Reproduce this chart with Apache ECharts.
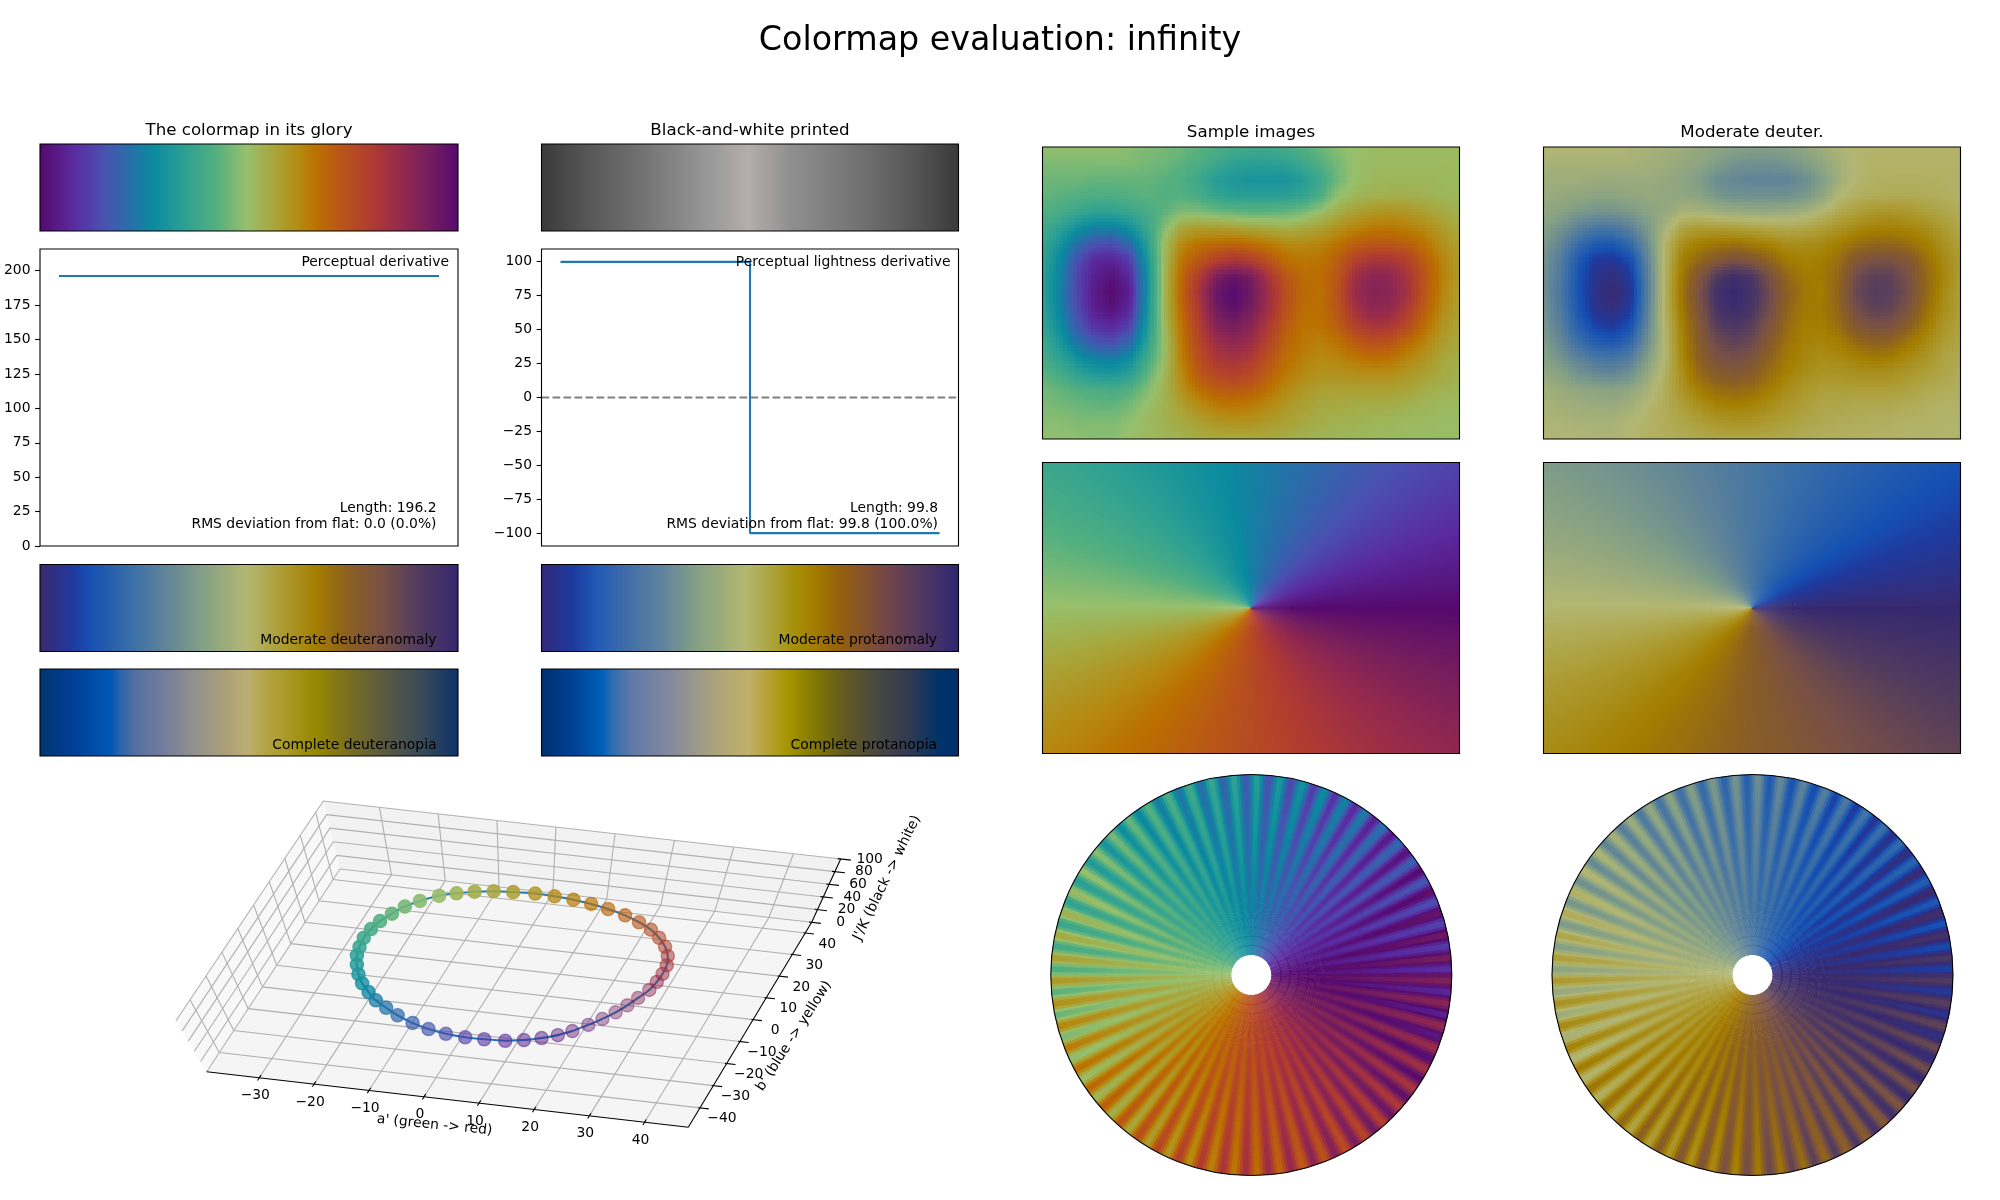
<!DOCTYPE html>
<html><head><meta charset="utf-8">
<style>html,body{margin:0;background:#fff}#c{width:2000px;height:1200px}</style>
<script src="https://cdn.jsdelivr.net/npm/echarts@6/dist/echarts.min.js"></script>
</head><body><div id="c"></div>
<script>
// ---------- colour ramps read from the strips (position, colour) ----------
const gloryStops=[[0,'#560a6e'],[.04,'#581a86'],[.08,'#5a2a9f'],[.15,'#4a50b0'],[.2,'#2f68ab'],[.27,'#0a8a9f'],[.34,'#2a9f95'],[.42,'#52af80'],[.495,'#97c06d'],[.56,'#a9a53a'],[.62,'#b58a12'],[.66,'#bb7200'],[.72,'#b95518'],[.79,'#b03c30'],[.86,'#962a4c'],[.93,'#751e5e'],[1,'#560a6e']];
const grayStops=[[0,'#3a3a3a'],[.1,'#545454'],[.25,'#747474'],[.4,'#989898'],[.495,'#b4aeac'],[.6,'#8f8f8f'],[.75,'#747474'],[.9,'#545454'],[1,'#3a3a3a']];
const deuterStops=[[0,'#3a2a70'],[.08,'#1f3a9e'],[.12,'#1550b2'],[.22,'#3a6fa8'],[.295,'#5e8299'],[.39,'#84a085'],[.495,'#b3b773'],[.58,'#ad9c33'],[.66,'#a47e00'],[.735,'#8c6020'],[.82,'#785045'],[.91,'#503a60'],[1,'#352870']];
const protanStops=[[0,'#33287a'],[.075,'#1c3a9e'],[.13,'#2058b5'],[.215,'#4470a8'],[.295,'#62859c'],[.37,'#83a085'],[.49,'#b3b870'],[.55,'#aca53e'],[.61,'#a58f06'],[.66,'#a37a00'],[.71,'#96620a'],[.77,'#85532a'],[.83,'#724548'],[.9,'#553a5d'],[1,'#2e2672']];
const deuteranopiaStops=[[0,'#00366e'],[.08,'#003f97'],[.17,'#0058b5'],[.19,'#2a62ac'],[.23,'#5570a0'],[.295,'#747c9d'],[.375,'#94938c'],[.455,'#b0a277'],[.495,'#bcae72'],[.535,'#b5a54a'],[.6,'#a89720'],[.66,'#968800'],[.735,'#7a7020'],[.82,'#5c5a40'],[.91,'#3a4a58'],[1,'#0f3268']];
const protanopiaStops=[[0,'#002f6e'],[.08,'#004398'],[.145,'#0060b8'],[.17,'#2e6cb0'],[.215,'#5f7aa8'],[.295,'#7f86a0'],[.375,'#9d9a88'],[.455,'#b7aa72'],[.495,'#c0b06a'],[.535,'#b8a43f'],[.59,'#a59600'],[.65,'#857a00'],[.725,'#625b1f'],[.8,'#4a4840'],[.875,'#353a50'],[.955,'#003368'],[1,'#002f6e']];

// ---------- derivative panels ----------
const derivX=[0,1];
const derivY=[196.2,196.2];
const lightX=[0,0.5,0.5,1];
const lightY=[99.8,99.8,-99.8,-99.8];
const derivTicks=[0,25,50,75,100,125,150,175,200];
const lightTicks=[-100,-75,-50,-25,0,25,50,75,100];

const aValues=[19.4,17.5,15.2,12.6,9.7,6.2,3.0,-0.4,-3.6,-6.7,-9.8,-12.3,-14.6,-16.5,-18.3,-19.7,-20.8,-21.6,-21.9,-22.0,-21.6,-20.8,-19.5,-18.0,-16.0,-13.3,-10.9,-8.3,-5.4,-2.3,1.3,4.6,7.9,11.1,14.3,17.6,20.5,23.1,25.2,27.0,28.3,29.0,29.1,28.9,28.4,27.3,26.2,24.9,23.3,21.5];
const bValues=[-19.4,-22.2,-24.6,-26.7,-28.3,-29.1,-29.6,-29.5,-28.8,-27.5,-25.5,-23.4,-21.3,-18.7,-15.9,-12.8,-9.4,-6.1,-3.0,0.4,3.9,7.1,10.2,13.2,15.7,18.2,20.5,22.5,24.1,25.2,26.1,26.4,26.4,26.0,25.2,23.9,22.2,20.2,17.7,14.8,11.6,8.2,4.9,1.8,-1.4,-4.8,-7.9,-10.9,-13.8,-16.5];
const jValues=[25,27,29,31,33,35,37,39,41,43,45,47,49,51,53,55,57,59,61,63,65,67,69,71,73,75,73,71,69,67,65,63,61,59,57,55,53,51,49,47,45,43,41,39,37,35,33,31,29,27];
const dotValues=[0,.02,.04,.06,.08,.1,.12,.14,.16,.18,.2,.22,.24,.26,.28,.3,.32,.34,.36,.38,.4,.42,.44,.46,.48,.5,.52,.54,.56,.58,.6,.62,.64,.66,.68,.7,.72,.74,.76,.78,.8,.82,.84,.86,.88,.9,.92,.94,.96,.98];
const dotShade=[.42,.46,.5,.54,.58,.6,.62,.64,.66,.68,.7,.72,.74,.76,.78,.8,.82,.84,.85,.86,.87,.88,.89,.9,.9,.9,.89,.88,.86,.84,.8,.76,.72,.68,.66,.64,.62,.6,.58,.56,.55,.54,.52,.5,.47,.44,.42,.4,.4,.4];
const aTicks=[-30,-20,-10,0,10,20,30,40];
const bTicks=[-40,-30,-20,-10,0,10,20,30,40];
const jTicks=[0,20,40,60,80,100];

// ---------- sample image 1: colormap value at a coarse grid, estimated by eye ----------
const fieldRows=[
[.49,.49,.49,.49,.49,.48,.47,.46,.45,.43,.41,.40,.39,.39,.40,.42,.45,.48,.50,.505,.51,.51,.51,.51,.51],
[.47,.47,.47,.47,.47,.47,.46,.45,.43,.41,.38,.35,.34,.34,.35,.38,.42,.46,.50,.51,.51,.51,.51,.51,.51],
[.45,.45,.45,.44,.44,.44,.44,.43,.41,.38,.33,.31,.30,.30,.30,.33,.38,.45,.50,.515,.52,.52,.52,.515,.51],
[.44,.43,.42,.41,.41,.42,.43,.42,.42,.40,.36,.34,.34,.34,.34,.36,.41,.49,.52,.53,.535,.535,.53,.52,.515],
[.42,.40,.37,.35,.35,.37,.40,.43,.47,.47,.45,.44,.43,.43,.44,.46,.50,.54,.57,.59,.60,.59,.57,.55,.53],
[.39,.35,.29,.25,.25,.29,.37,.47,.56,.58,.58,.57,.56,.55,.54,.55,.57,.60,.63,.65,.65,.64,.62,.58,.55],
[.37,.30,.21,.15,.14,.20,.33,.51,.62,.66,.68,.69,.67,.65,.62,.62,.63,.66,.70,.72,.72,.70,.66,.61,.57],
[.35,.27,.15,.07,.06,.11,.30,.51,.66,.72,.78,.82,.79,.73,.67,.65,.66,.70,.78,.82,.82,.78,.70,.63,.58],
[.34,.26,.13,.05,.02,.07,.28,.52,.68,.79,.92,.97,.93,.82,.72,.67,.67,.72,.84,.89,.88,.82,.72,.64,.58],
[.34,.25,.13,.04,.00,.05,.28,.52,.69,.82,.96,1.0,.95,.85,.74,.68,.66,.73,.86,.90,.89,.83,.72,.63,.57],
[.35,.26,.14,.05,.02,.07,.29,.52,.68,.80,.94,.98,.93,.84,.73,.67,.67,.72,.83,.88,.87,.80,.70,.62,.57],
[.36,.28,.17,.09,.07,.12,.31,.51,.66,.78,.90,.93,.89,.80,.71,.66,.66,.70,.78,.82,.81,.75,.67,.60,.56],
[.38,.31,.22,.16,.14,.19,.34,.50,.65,.76,.85,.88,.85,.77,.69,.65,.64,.66,.71,.74,.73,.68,.63,.58,.55],
[.40,.35,.29,.25,.24,.27,.38,.50,.64,.74,.81,.83,.80,.73,.67,.64,.62,.63,.65,.67,.66,.63,.60,.56,.54],
[.43,.40,.35,.32,.31,.34,.43,.52,.62,.71,.76,.78,.75,.70,.65,.62,.60,.60,.61,.61,.61,.59,.57,.55,.53],
[.46,.44,.42,.41,.40,.42,.47,.53,.60,.66,.70,.71,.70,.66,.62,.59,.57,.57,.57,.57,.57,.56,.54,.53,.52],
[.47,.46,.45,.44,.44,.46,.50,.53,.57,.61,.64,.65,.64,.62,.59,.57,.55,.55,.54,.54,.54,.53,.52,.51,.51],
[.48,.48,.47,.47,.47,.49,.51,.53,.55,.57,.59,.60,.60,.58,.57,.55,.54,.53,.53,.52,.52,.51,.51,.505,.505],
[.49,.49,.49,.48,.48,.50,.51,.52,.53,.54,.55,.55,.55,.55,.54,.53,.52,.52,.515,.51,.51,.505,.505,.505,.505]
];
// ---------- spoke disc: one spoke period and the swing per ring ----------
const spokeProfile=[.38,.92,.92,.38,-.38,-.92,-.92,-.38];
const ringEdges=[.1,.145,.19,.235,.28,.325,.37,.415,.46,.505,.55,.595,.64,.685,.73,.775,.82,.865,.91,.955,1];
const ringSwing=[.003,.005,.008,.011,.015,.019,.023,.028,.033,.038,.043,.049,.054,.06,.066,.071,.076,.081,.086,.09];
const spokeCount=54;

// ---------- layout ----------
const FONT='"DejaVu Sans"';
const barRects=[
 {x:40,y:144,w:418,h:87,stops:gloryStops},
 {x:541.5,y:144,w:417,h:87,stops:grayStops},
 {x:40,y:564.5,w:418,h:87,stops:deuterStops},
 {x:541.5,y:564.5,w:417,h:87,stops:protanStops},
 {x:40,y:669,w:418,h:87,stops:deuteranopiaStops},
 {x:541.5,y:669,w:417,h:87,stops:protanopiaStops}];
const imgRects=[
 {x:1042.5,y:147,w:417,h:292,kind:'field',stops:gloryStops},
 {x:1543.5,y:147,w:417,h:292,kind:'field',stops:deuterStops},
 {x:1042.5,y:462.5,w:417,h:291,kind:'fan',stops:gloryStops},
 {x:1543.5,y:462.5,w:417,h:291,kind:'fan',stops:deuterStops}];

function hex(c){return [parseInt(c.slice(1,3),16),parseInt(c.slice(3,5),16),parseInt(c.slice(5,7),16)];}
function rampColor(stops,v){
  v=Math.max(0,Math.min(1,v));
  for(let i=1;i<stops.length;i++){
    if(v<=stops[i][0]){
      const t=(v-stops[i-1][0])/(stops[i][0]-stops[i-1][0]);
      const a=hex(stops[i-1][1]),b=hex(stops[i][1]);
      return 'rgb('+a.map((q,k)=>Math.round(q+(b[k]-q)*t)).join(',')+')';
    }
  }
  return stops[stops.length-1][1];
}
function wrap(v){return ((v%1)+1)%1;}

const grids=[],xAxes=[],yAxes=[],series=[],graphics=[];
function addGrid(r,xMin,xMax,yMin,yMax,inverse){
  const idx=grids.length;
  grids.push({left:r.x,top:r.y,width:r.w,height:r.h,containLabel:false,show:false});
  xAxes.push({gridIndex:idx,type:'value',min:xMin,max:xMax,show:false});
  yAxes.push({gridIndex:idx,type:'value',min:yMin,max:yMax,inverse:!!inverse,show:false});
  return idx;
}
function frame(idx){
  series.push({type:'custom',xAxisIndex:idx,yAxisIndex:idx,coordinateSystem:'cartesian2d',silent:true,z:20,data:[[0]],clip:false,
    renderItem:(p)=>({type:'rect',shape:{x:p.coordSys.x,y:p.coordSys.y,width:p.coordSys.width,height:p.coordSys.height},style:{fill:'none',stroke:'#000',lineWidth:1.1}})});
}
function text(s,x,y,size,align,rot){
  graphics.push({type:'text',x:x,y:y,rotation:rot||0,z:100,silent:true,style:{text:s,font:size+'px '+FONT,fill:'#000',align:align||'center',verticalAlign:'middle'}});
}

// colour strips
barRects.forEach(r=>{
  const i=addGrid(r,0,1,0,1);
  series.push({type:'custom',xAxisIndex:i,yAxisIndex:i,silent:true,z:2,data:[[0,1,1,0]],
    renderItem:(p,api)=>{
      const a=api.coord([api.value(0),api.value(1)]),b=api.coord([api.value(2),api.value(3)]);
      return {type:'rect',shape:{x:a[0],y:a[1],width:b[0]-a[0],height:b[1]-a[1]},
        style:{fill:new echarts.graphic.LinearGradient(0,0,1,0,r.stops.map(s=>({offset:s[0],color:s[1]})))}};
    }});
  frame(i);
});

// derivative panels
function linePanel(r,yMin,yMax,ticks,xs,ys,zero){
  const idx=grids.length;
  grids.push({left:r.x,top:r.y,width:r.w,height:r.h,show:true,borderColor:'#000',borderWidth:1.1,backgroundColor:'#fff',containLabel:false});
  xAxes.push({gridIndex:idx,type:'value',min:-0.05,max:1.05,show:false});
  yAxes.push({gridIndex:idx,type:'value',min:yMin,max:yMax,
    axisLine:{show:false,onZero:false},splitLine:{show:false},
    axisTick:{show:true,length:4.9,lineStyle:{color:'#000',width:1.1},customValues:ticks},
    axisLabel:{fontFamily:'DejaVu Sans',fontSize:13.9,color:'#000',margin:9.5,padding:[2,0,0,0],customValues:ticks,formatter:v=>String(v).replace('-','\u2212')}});
  if(zero) series.push({type:'line',xAxisIndex:idx,yAxisIndex:idx,data:[[-0.05,0],[1.05,0]],showSymbol:false,silent:true,z:3,lineStyle:{color:'#000',opacity:.5,width:2.08,type:[7.7,3.3]}});
  series.push({type:'line',xAxisIndex:idx,yAxisIndex:idx,data:xs.map((x,i)=>[x,ys[i]]),showSymbol:false,silent:true,z:4,lineStyle:{color:'#1f77b4',width:2.08}});
}
linePanel({x:40,y:249,w:418,h:297},0,215.8,derivTicks,derivX,derivY,false);
linePanel({x:541.5,y:249,w:417,h:297},-109.3,109.3,lightTicks,lightX,lightY,true);

// sample images
const SUB=5;
imgRects.forEach(r=>{
  if(r.kind==='field'){
    const i=addGrid(r,0,fieldRows[0].length-1,0,fieldRows.length-1,true);
    const cells=[];
    for(let row=0;row<fieldRows.length-1;row++)for(let col=0;col<fieldRows[0].length-1;col++)cells.push([col,row]);
    series.push({type:'custom',xAxisIndex:i,yAxisIndex:i,silent:true,z:2,progressive:0,data:cells,
      renderItem:(p,api)=>{
        const c=api.value(0),w=api.value(1);
        const q00=fieldRows[w][c],q10=fieldRows[w][c+1],q01=fieldRows[w+1][c],q11=fieldRows[w+1][c+1];
        const a=api.coord([c,w]),b=api.coord([c+1,w+1]);
        const dx=(b[0]-a[0])/SUB,dy=(b[1]-a[1])/SUB,kids=[];
        for(let m=0;m<SUB;m++)for(let n=0;n<SUB;n++){
          const s=(m+.5)/SUB,t=(n+.5)/SUB;
          const v=q00*(1-s)*(1-t)+q10*s*(1-t)+q01*(1-s)*t+q11*s*t;
          const x0=Math.round(a[0]+m*dx),x1=Math.round(a[0]+(m+1)*dx),y0=Math.round(a[1]+n*dy),y1=Math.round(a[1]+(n+1)*dy);
          kids.push({type:'rect',shape:{x:x0,y:y0,width:x1-x0,height:y1-y0},style:{fill:rampColor(r.stops,v)}});
        }
        return {type:'group',children:kids};
      }});
    frame(i);
  }else{
    const i=addGrid(r,-1,1,-1,1);
    const wedges=[];
    for(let d=0;d<360;d+=1)wedges.push([d]);
    series.push({type:'custom',xAxisIndex:i,yAxisIndex:i,silent:true,z:2,clip:true,progressive:0,data:wedges,
      renderItem:(p,api)=>{
        const d=api.value(0),a1=d*Math.PI/180,a2=(d+2)*Math.PI/180;
        const pts=[[0,0],[3*Math.cos(a1),3*Math.sin(a1)],[3*Math.cos(a2),3*Math.sin(a2)]].map(q=>api.coord(q));
        return {type:'polygon',shape:{points:pts},style:{fill:rampColor(r.stops,(d+.5)/360)}};
      }});
    frame(i);
  }
});

// spoke discs on polar axes
const polars=[],angleAxes=[],radiusAxes=[];
[[1251.3,gloryStops],[1752.5,deuterStops]].forEach(([cx,stops],pi)=>{
  polars.push({center:[cx,975],radius:[0,200.5]});
  angleAxes.push({polarIndex:pi,type:'value',min:0,max:360,startAngle:0,clockwise:false,z:30,
    axisLine:{show:true,lineStyle:{color:'#000',width:1.1}},axisTick:{show:false},axisLabel:{show:false},splitLine:{show:false}});
  radiusAxes.push({polarIndex:pi,type:'value',min:0,max:1,show:false,splitLine:{show:false},axisLine:{show:false},axisTick:{show:false},axisLabel:{show:false}});
  const sectors=spokeCount*spokeProfile.length,step=360/sectors,cells=[];
  for(let ring=0;ring<ringSwing.length;ring++)for(let k=0;k<sectors;k++)cells.push([ring,k]);
  series.push({type:'custom',coordinateSystem:'polar',polarIndex:pi,silent:true,z:2,progressive:0,data:cells,
    renderItem:(p,api)=>{
      const ring=api.value(0),k=api.value(1),r1=ringEdges[ring],r2=Math.min(1,ringEdges[ring+1]+.006),a1=k*step,a2=(k+1.6)*step;
      const v=wrap((k+.5)*step/360+ringSwing[ring]*spokeProfile[k%spokeProfile.length]);
      return {type:'polygon',shape:{points:[[r1,a1],[r2,a1],[r2,a2],[r1,a2]].map(q=>api.coord(q))},style:{fill:rampColor(stops,v)}};
    }});
});

// 3D box: perspective from the box corners seen in the picture
function squareToQuad(p){
  const [x0,y0]=p[0],[x1,y1]=p[1],[x2,y2]=p[2],[x3,y3]=p[3];
  const dx1=x1-x2,dx2=x3-x2,sx=x0-x1+x2-x3,dy1=y1-y2,dy2=y3-y2,sy=y0-y1+y2-y3,den=dx1*dy2-dx2*dy1;
  const g=(sx*dy2-dx2*sy)/den,h=(dx1*sy-sx*dy1)/den;
  const a=x1-x0+g*x1,b=x3-x0+h*x3,c=x0,d=y1-y0+g*y1,e=y3-y0+h*y3,f=y0;
  return (u,v)=>{const q=g*u+h*v+1;return [(a*u+b*v+c)/q,(d*u+e*v+f)/q];};
}
const floorMap=squareToQuad([[206.7,1071.7],[688.3,1127.3],[811.7,922.3],[340,869]]);
const topMap=squareToQuad([[176,1020.7],[706,1083],[840.7,859],[323.3,801]]);
const aR=[-39.6,47.9],bR=[-48.7,45];
function project(a,b,J){
  const u=(a-aR[0])/(aR[1]-aR[0]),v=(b-bR[0])/(bR[1]-bR[0]),w=J/100;
  const p=floorMap(u,v),q=topMap(u,v);
  return [p[0]*(1-w)+q[0]*w,p[1]*(1-w)+q[1]*w];
}
const box=addGrid({x:0,y:0,w:2000,h:1200},0,2000,0,1200,true);
function boxSeries(data,render,z){
  series.push({type:'custom',xAxisIndex:box,yAxisIndex:box,silent:true,z:z,clip:false,progressive:0,data:data.map((d,i)=>[i]),
    renderItem:(p,api)=>render(data[api.value(0)],api)});
}
const panes=[
 {fill:'#f5f5f5',c:[[aR[0],bR[0],0],[aR[1],bR[0],0],[aR[1],bR[1],0],[aR[0],bR[1],0]]},
 {fill:'#f8f8f8',c:[[aR[0],bR[0],0],[aR[0],bR[1],0],[aR[0],bR[1],100],[aR[0],bR[0],100]]},
 {fill:'#f2f2f2',c:[[aR[0],bR[1],0],[aR[1],bR[1],0],[aR[1],bR[1],100],[aR[0],bR[1],100]]}];
boxSeries(panes,(d,api)=>({type:'polygon',shape:{points:d.c.map(q=>api.coord(project(q[0],q[1],q[2])))},style:{fill:d.fill}}),5);
const gridSegs=[];
aTicks.forEach(a=>{gridSegs.push([[a,bR[0],0],[a,bR[1],0],[a,bR[1],100]]);});
bTicks.forEach(b=>{gridSegs.push([[aR[1],b,0],[aR[0],b,0],[aR[0],b,100]]);});
jTicks.forEach(j=>{gridSegs.push([[aR[0],bR[0],j],[aR[0],bR[1],j],[aR[1],bR[1],j]]);});
boxSeries(gridSegs,(d,api)=>({type:'polyline',shape:{points:d.map(q=>api.coord(project(q[0],q[1],q[2])))},style:{fill:'none',stroke:'#b0b0b0',lineWidth:1.1}}),6);
const axisSegs=[
 [[aR[0],bR[0],0],[aR[1],bR[0],0]],
 [[aR[1],bR[0],0],[aR[1],bR[1],0]],
 [[aR[1],bR[1],0],[aR[1],bR[1],100]]];
aTicks.forEach(a=>axisSegs.push([[a,bR[0]-1.2,0],[a,bR[0]+1.2,0]]));
bTicks.forEach(b=>axisSegs.push([[aR[1]-.3,b,0],[aR[1]+1.6,b,0]]));
jTicks.forEach(j=>axisSegs.push([[aR[1]-.5,bR[1],j],[aR[1]+1.7,bR[1],j]]));
boxSeries(axisSegs,(d,api)=>({type:'polyline',shape:{points:d.map(q=>api.coord(project(q[0],q[1],q[2])))},style:{fill:'none',stroke:'#000',lineWidth:1.1}}),7);
const tickLabels=[];
aTicks.forEach(a=>tickLabels.push({t:a,p:[a,bR[0],0],o:[-4,18]}));
bTicks.forEach(b=>tickLabels.push({t:b,p:[aR[1],b,0],o:[22,11]}));
jTicks.forEach(j=>tickLabels.push({t:j,p:[aR[1],bR[1],j],o:[29,0]}));
boxSeries(tickLabels,(d,api)=>{
  const c=api.coord(project(d.p[0],d.p[1],d.p[2]));
  return {type:'text',style:{text:String(d.t).replace('-','\u2212'),x:c[0]+d.o[0],y:c[1]+d.o[1],font:'13.9px '+FONT,fill:'#000',align:'center',verticalAlign:'middle'}};
},8);
const dotData=aValues.map((a,i)=>({p:[a,bValues[i],jValues[i]],v:dotValues[i],s:dotShade[i]}));
const lineData=[dotData.concat([dotData[0]])];
boxSeries(lineData,(d,api)=>({type:'polyline',shape:{points:d.map(q=>api.coord(project(q.p[0],q.p[1],q.p[2]))),smooth:.25},style:{fill:'none',stroke:'#1f77b4',lineWidth:2.08}}),9);
boxSeries(dotData,(d,api)=>{
  const c=api.coord(project(d.p[0],d.p[1],d.p[2]));
  const col=rampColor(gloryStops,d.v);
  return {type:'circle',shape:{cx:c[0],cy:c[1],r:6.6},style:{fill:col,stroke:col,lineWidth:1.3,opacity:d.s}};
},10);

// text
text('Colormap evaluation: infinity',1000,41,33.3);
text('The colormap in its glory',249,131,16.67);
text('Black-and-white printed',750,131,16.67);
text('Sample images',1251,132.5,16.67);
text('Moderate deuter.',1752,132.5,16.67);
text('Perceptual derivative',449,262.5,13.9,'right');
text('Length: 196.2',436.5,508,13.9,'right');
text('RMS deviation from flat: 0.0 (0.0%)',436.5,524.5,13.9,'right');
text('Perceptual lightness derivative',950.5,262.5,13.9,'right');
text('Length: 99.8',938,508,13.9,'right');
text('RMS deviation from flat: 99.8 (100.0%)',938,524.5,13.9,'right');
text('Moderate deuteranomaly',436.5,640.5,13.9,'right');
text('Moderate protanomaly',937,640.5,13.9,'right');
text('Complete deuteranopia',436.5,745,13.9,'right');
text('Complete protanopia',937,745,13.9,'right');
text("a' (green -> red)",434.5,1125,13.9,'center',-0.1);
text("b' (blue -> yellow)",794,1036,13.9,'center',1.0);
text("J'/K (black -> white)",887,878,13.9,'center',1.117);

const chart=echarts.init(document.getElementById('c'),null,{renderer:'canvas',width:2000,height:1200});
chart.setOption({animation:false,backgroundColor:'#fff',grid:grids,xAxis:xAxes,yAxis:yAxes,polar:polars,angleAxis:angleAxes,radiusAxis:radiusAxes,series:series,graphic:{elements:graphics}});
</script></body></html>
